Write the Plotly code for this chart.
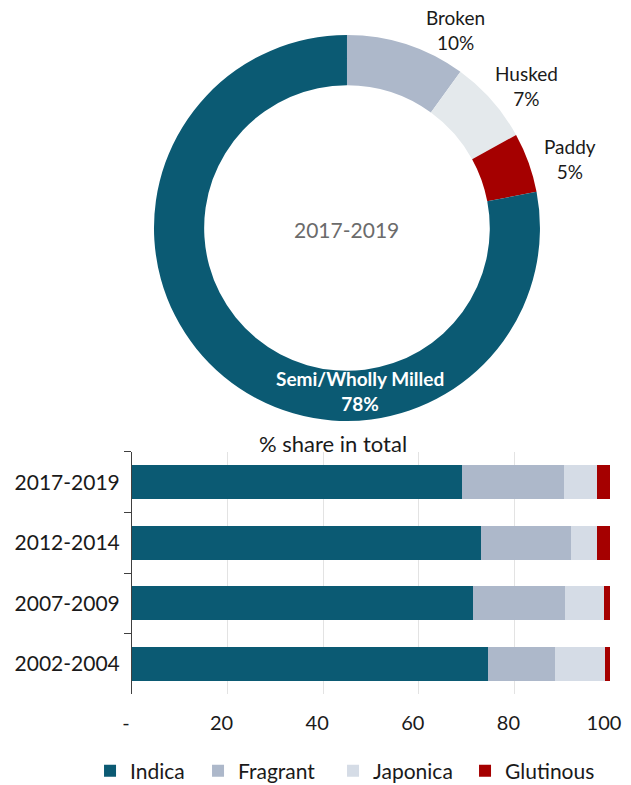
import plotly.graph_objects as go

# donut: product form, 2017-2019
forms = ["Broken", "Husked", "Paddy", "Semi/Wholly Milled"]
form_share = [10, 7, 5, 78]
form_colors = ["#adb8ca", "#e4e9ec", "#a50000", "#0b5a73"]

# stacked bars: % share in total by type
periods = ["2017-2019", "2012-2014", "2007-2009", "2002-2004"]
indica = [69.1, 73.1, 71.4, 74.4]
fragrant = [21.3, 18.8, 19.2, 14.1]
japonica = [6.9, 5.3, 8.2, 10.5]
glutinous = [2.7, 2.8, 1.2, 1.0]
type_colors = {"Indica": "#0b5a73", "Fragrant": "#adb8ca",
               "Japonica": "#d5dce6", "Glutinous": "#a50000"}
legend_widths = {"Indica": 63, "Fragrant": 90, "Japonica": 87, "Glutinous": 95}

FONT = "Lato, Open Sans, sans-serif"

fig = go.Figure()

fig.add_trace(go.Pie(
    labels=forms, values=form_share, hole=0.74, sort=False,
    direction="clockwise", rotation=0,
    marker=dict(colors=form_colors, line=dict(width=0)),
    textinfo="none", hoverinfo="label+percent", showlegend=False,
    domain=dict(x=[0.2313, 0.8431], y=[0.4739, 0.9656]),
))

series = [("Indica", indica), ("Fragrant", fragrant),
          ("Japonica", japonica), ("Glutinous", glutinous)]
for name, vals in series:
    fig.add_trace(go.Bar(
        y=periods, x=vals, name=name, orientation="h",
        marker=dict(color=type_colors[name], line=dict(width=0)),
        width=0.56, legendwidth=legend_widths[name],
    ))

# donut labels (page body has an 8px margin, so positions are shifted)
label_pos = {"Broken": (0.7084, 0.9718), "Husked": (0.8225, 0.9006),
             "Paddy": (0.8906, 0.8076), "Semi/Wholly Milled": (0.5578, 0.5121)}
annotations = []
for lab, val in zip(forms, form_share):
    x, y = label_pos[lab]
    inside = lab == "Semi/Wholly Milled"
    txt = f"<b>{lab}<br>{val}%</b>" if inside else f"{lab}<br>{val}%"
    annotations.append(dict(
        x=x, y=y, xref="paper", yref="paper", text=txt, showarrow=False,
        xanchor="center", yanchor="middle",
        font=dict(size=19, color="white" if inside else "#1a1a1a", family=FONT),
        align="center",
    ))
annotations.append(dict(
    x=0.5372, y=0.7172, xref="paper", yref="paper", text="2017-2019",
    xanchor="center", yanchor="middle",
    showarrow=False, font=dict(size=21, color="#6b6b6b", family=FONT),
))
annotations.append(dict(
    x=0.5151, y=0.4446, xref="paper", yref="paper", text="% share in total",
    xanchor="center", yanchor="middle",
    showarrow=False, font=dict(size=22, color="#1a1a1a", family=FONT),
))

fig.update_layout(
    width=631, height=785,
    margin=dict(l=0, r=0, t=0, b=0),
    paper_bgcolor="white", plot_bgcolor="white",
    barmode="stack",
    font=dict(family=FONT, size=20, color="#1a1a1a"),
    annotations=annotations,
    legend=dict(orientation="h", x=0.130, xanchor="left", y=0.028, yanchor="middle",
                font=dict(size=21), traceorder="normal"),
    xaxis=dict(domain=[0.1965, 0.954], range=[0, 100], tickvals=[0, 20, 40, 60, 80, 100],
               ticktext=["-", "20", "40", "60", "80", "100"],
               showgrid=True, gridcolor="#e3e3e3", gridwidth=1, zeroline=False,
               showline=False, ticks="", ticklabelstandoff=15, ticklabelshift=-6,
               automargin=False, tickfont=dict(size=20)),
    yaxis=dict(domain=[0.1261, 0.4344], type="category", categoryorder="array",
               categoryarray=periods, autorange="reversed", automargin=False,
               showline=True, linecolor="#404040", linewidth=1,
               ticks="outside", tickson="boundaries", ticklen=7, tickcolor="#404040",
               showgrid=False, tickfont=dict(size=21), ticklabelstandoff=7),
)

fig.write_html("out.html")
